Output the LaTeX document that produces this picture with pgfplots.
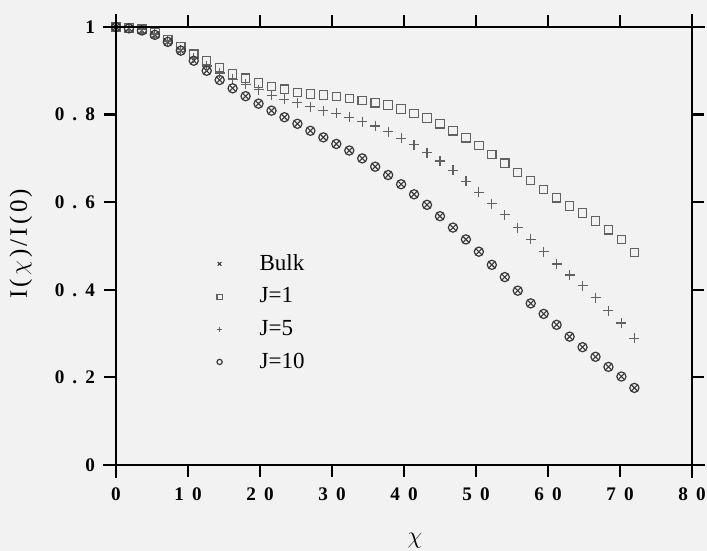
\documentclass[border=0pt]{standalone}
\usepackage{fontspec}
\setmainfont{Liberation Serif}
\usepackage{pgfplots}
\usepackage{pgfplotstable}
\pgfplotsset{compat=1.18}
\definecolor{paper}{gray}{0.95}
\definecolor{markgray}{gray}{0.38}
\definecolor{markdark}{gray}{0.22}
\newcommand{\gap}{\hspace{0.42em}}
\newcommand{\lsp}{\hspace{1.6pt}}
\pgfplotsset{
  legmark/.style={legend image code/.code={%
      \path[draw=none, fill=none] (0pt,-2pt) rectangle (27pt,2pt);
      \draw[##1, mark repeat=2, mark phase=2, mark size=1.3pt]
        plot coordinates {(0pt,0pt)(9pt,0pt)(27pt,0pt)};}},
}

% chi, I(chi)/I(0) for each series
\pgfplotstableread{
chi  bulk  jone  jfive  jten
0.0  1.000 1.000 1.000 1.000
1.8  0.997 0.998 0.998 0.997
3.6  0.992 0.995 0.994 0.992
5.4  0.982 0.986 0.984 0.982
7.2  0.966 0.971 0.968 0.966
9.0  0.946 0.954 0.948 0.946
10.8 0.923 0.938 0.929 0.923
12.6 0.900 0.923 0.911 0.900
14.4 0.879 0.907 0.895 0.879
16.2 0.860 0.893 0.881 0.860
18.0 0.842 0.883 0.869 0.842
19.8 0.825 0.872 0.857 0.825
21.6 0.809 0.864 0.844 0.809
23.4 0.794 0.858 0.835 0.794
25.2 0.779 0.851 0.827 0.779
27.0 0.763 0.847 0.818 0.763
28.8 0.748 0.845 0.809 0.748
30.6 0.733 0.841 0.803 0.733
32.4 0.718 0.837 0.794 0.718
34.2 0.700 0.832 0.784 0.700
36.0 0.681 0.827 0.774 0.681
37.8 0.662 0.822 0.761 0.662
39.6 0.641 0.813 0.746 0.641
41.4 0.618 0.803 0.731 0.618
43.2 0.594 0.792 0.713 0.594
45.0 0.568 0.779 0.694 0.568
46.8 0.542 0.763 0.673 0.542
48.6 0.515 0.747 0.648 0.515
50.4 0.487 0.729 0.623 0.487
52.2 0.457 0.709 0.597 0.457
54.0 0.429 0.689 0.571 0.429
55.8 0.398 0.668 0.542 0.398
57.6 0.369 0.649 0.515 0.369
59.4 0.345 0.629 0.487 0.345
61.2 0.320 0.610 0.459 0.320
63.0 0.293 0.591 0.434 0.293
64.8 0.269 0.575 0.409 0.269
66.6 0.247 0.557 0.382 0.247
68.4 0.224 0.537 0.352 0.224
70.2 0.202 0.515 0.324 0.202
72.0 0.176 0.485 0.289 0.176
}\datatab

\begin{document}
\begin{tikzpicture}[x=1pt,y=1pt]
\path[use as bounding box, fill=paper] (-58,-43) rectangle (295.5,232.5);
\begin{axis}[
    at={(0,0)}, anchor=south west,
    scale only axis, width=288pt, height=219pt,
    xmin=0, xmax=80, ymin=0, ymax=1,
    clip=false,
    xtick={0,10,...,80},
    xticklabels={0,1\gap0,2\gap0,3\gap0,4\gap0,5\gap0,6\gap0,7\gap0,8\gap0},
    ytick={0,0.2,0.4,0.6,0.8,1},
    yticklabels={0,0\gap.\gap2,0\gap.\gap4,0\gap.\gap6,0\gap.\gap8,1},
    tick label style={font=\fontsize{9.6}{11}\selectfont\bfseries},
    xticklabel style={yshift=-2pt},
    yticklabel style={xshift=-1pt},
    tick align=outside,
    major tick length=6pt,
    tick style={black, line width=1.1pt},
    axis line style={line width=1.2pt},
    label style={font=\fontsize{12.5}{14}\selectfont},
    xlabel={$\chi$},
    xlabel style={at={(axis description cs:0.519,-0.172)}, anchor=center},
    ylabel={I\lsp(\lsp$\chi$\lsp)\lsp/\lsp I\lsp(\lsp0\lsp)},
    ylabel style={at={(axis description cs:-0.165,0.505)}, anchor=center},
    legend style={draw=none, fill=none, at={(axis cs:11.0,0.50)}, anchor=north west,
        font=\fontsize{11.5}{13}\selectfont, row sep=3.2pt},
    legend cell align=left,
  ]
  \addplot[only marks, legmark, mark=x, mark size=2.3pt, draw=markdark, line width=0.55pt]
    table[x=chi, y=bulk] {\datatab};
  \addlegendentry{Bulk}
  \addplot[only marks, legmark, mark=square, mark size=2.1pt, draw=markgray, line width=0.55pt]
    table[x=chi, y=jone] {\datatab};
  \addlegendentry{J=1}
  \addplot[only marks, legmark, mark=+, mark size=2.5pt, draw=markgray, line width=0.6pt]
    table[x=chi, y=jfive] {\datatab};
  \addlegendentry{J=5}
  \addplot[only marks, legmark, mark=o, mark size=2.3pt, draw=markdark, line width=0.6pt]
    table[x=chi, y=jten] {\datatab};
  \addlegendentry{J=10}
\end{axis}
% axis lines run a little past the corners
\draw[line width=1.2pt] (-6.5,0) -- (294.5,0);
\draw[line width=1.2pt] (-6.5,219) -- (294.5,219);
\draw[line width=1.2pt] (0,-6.5) -- (0,225.5);
\draw[line width=1.2pt] (288,-6.5) -- (288,225.5);
\end{tikzpicture}
\end{document}
